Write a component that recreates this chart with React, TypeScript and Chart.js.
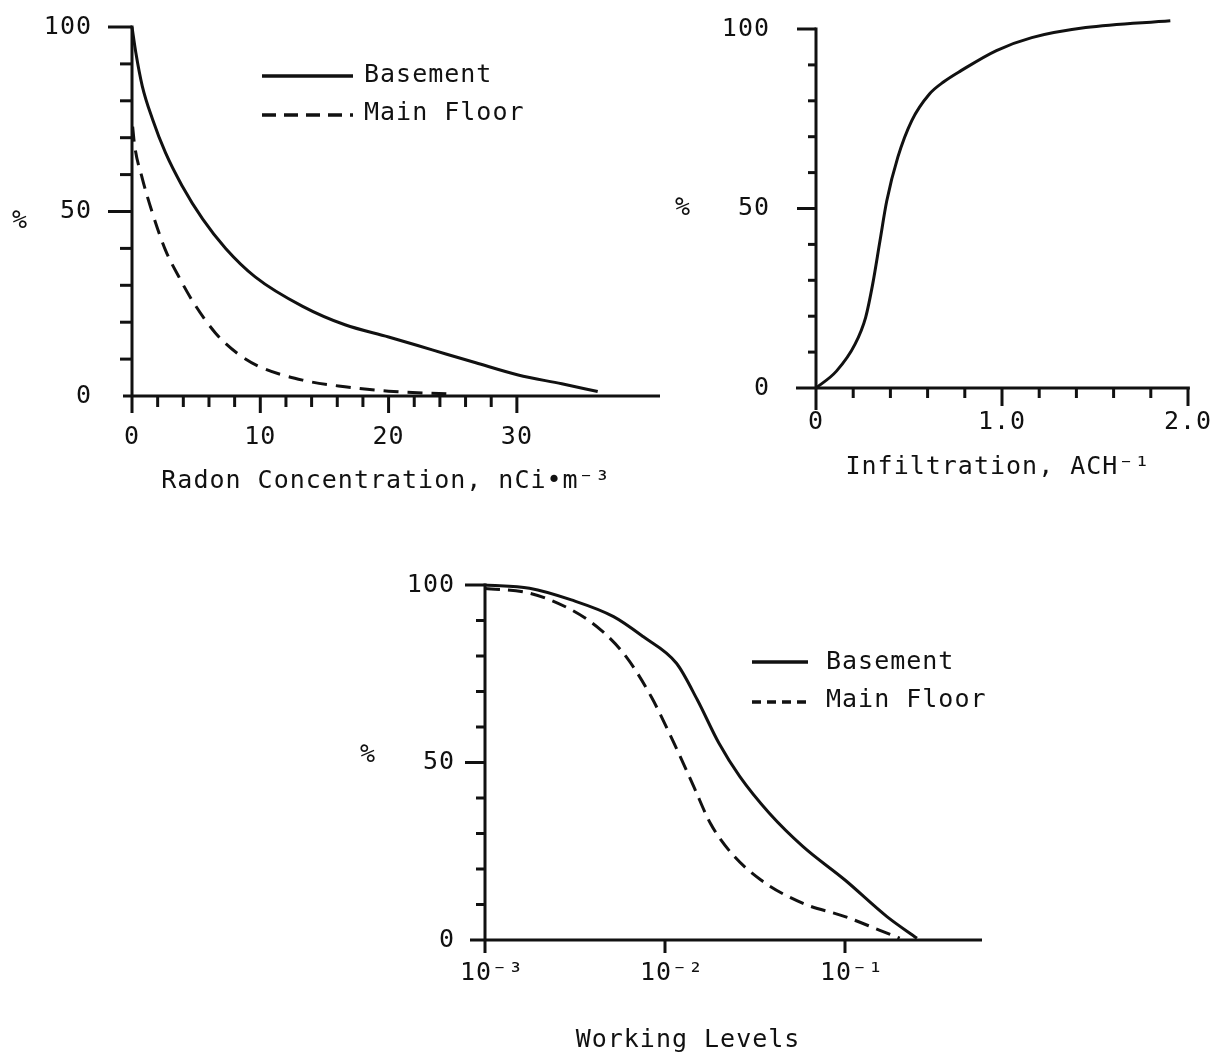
import React, { useEffect, useRef } from 'react';
import { Chart, registerables } from 'chart.js';

Chart.register(...registerables);

const FONT = '"DejaVu Sans Mono", "Liberation Mono", monospace';
const INK = '#111111';
const FS = 25;

// ---------- Panel 1: Radon concentration ----------
const radonBasementX = [0, 0.3, 0.8, 1.6, 2.6, 3.9, 5.5, 7.3, 9.6, 13.3, 16.6, 20, 23.4, 26.8, 30.1, 33.5, 36.3];
const radonBasementY = [100, 93, 84, 75, 66, 57, 48, 40, 32.3, 24.3, 19.3, 16, 12.5, 9, 5.7, 3.3, 1.2];
const radonMainX = [0.05, 0.2, 0.8, 1.6, 2.6, 3.7, 4.8, 6.5, 8.2, 9.9, 13.3, 16.6, 20, 24.5];
const radonMainY = [73, 68, 59, 49.5, 39.6, 32, 25.3, 17.1, 11.6, 8, 4.3, 2.5, 1.3, 0.6];
const radonXTicks = [0, 10, 20, 30];
const radonXTickLabels = ['0', '10', '20', '30'];
const radonXMinor = [2, 4, 6, 8, 12, 14, 16, 18, 22, 24, 26, 28];

// ---------- Panel 2: Infiltration ----------
const infilX = [0, 0.11, 0.21, 0.267, 0.305, 0.344, 0.38, 0.44, 0.515, 0.61, 0.687, 0.78, 0.97, 1.16, 1.45, 1.905];
const infilY = [0, 4.7, 12.2, 19.7, 29, 41, 52, 64.3, 74.5, 81.9, 85.3, 88.4, 94, 97.6, 100.4, 102.3];
const infilXTicks = [0, 1, 2];
const infilXTickLabels = ['0', '1.0', '2.0'];
const infilXMinor = [0.2, 0.4, 0.6, 0.8, 1.2, 1.4, 1.6, 1.8];

// ---------- Panel 3: Working levels ----------
const wlBasementX = [0.001, 0.001766, 0.00302, 0.00518, 0.00759, 0.01161, 0.01514, 0.01995, 0.02606, 0.038, 0.0585, 0.1, 0.171, 0.251];
const wlBasementY = [100, 99.1, 95.8, 91.1, 85.4, 77.9, 67.6, 55.4, 46, 35.7, 26.3, 16.9, 6.6, 0.5];
const wlMainX = [0.001, 0.001766, 0.00302, 0.00441, 0.00608, 0.00839, 0.01102, 0.01445, 0.01786, 0.02344, 0.03412, 0.0585, 0.1, 0.155, 0.2014];
const wlMainY = [99, 97.7, 93, 87.3, 79.8, 68.5, 56.3, 43.2, 32.9, 24.4, 16.9, 10.3, 6.6, 2.8, 0.5];
const wlXTicks = [0.001, 0.01, 0.1];
const wlXTickLabels = ['10⁻³', '10⁻²', '10⁻¹'];

// ---------- shared ----------
const pctTicks = [0, 50, 100];
const pctTickLabels = ['0', '50', '100'];
const pctMinor = [10, 20, 30, 40, 60, 70, 80, 90];
const legendLabels = ['Basement', 'Main Floor'];

type Series = { x: number[]; y: number[]; dash: number[] };
type Cfg = {
  left: number; top: number; width: number; height: number;
  area: { l: number; t: number; r: number; b: number };
  xType: 'linear' | 'logarithmic';
  xMin: number; xMax: number; xAxisEnd: number;
  xTicks: number[]; xTickLabels: string[]; xMinor: number[];
  xMajorLen: number; xMinorLen: number; xAxisLeft: number; yAxisBelow: number;
  yMajorLen: number; yMinorLen: number;
  yLabelPad: number; xLabelPad: number; xLabelOffset: number;
  series: Series[];
  pct: { x: number; y: number };
  title: { text: string; x: number; y: number };
  legend?: { x1: number; x2: number; tx: number; rows: { y: number; ty: number; dash: number[] }[] };
};

const panels: Cfg[] = [
  {
    left: 0, top: 0, width: 680, height: 510,
    area: { l: 132, t: 27, r: 658, b: 396 },
    xType: 'linear', xMin: 0, xMax: 41, xAxisEnd: 41.2,
    xTicks: radonXTicks, xTickLabels: radonXTickLabels, xMinor: radonXMinor,
    xMajorLen: 17, xMinorLen: 11, xAxisLeft: 9, yAxisBelow: 17,
    yMajorLen: 24, yMinorLen: 12,
    yLabelPad: 40, xLabelPad: 26, xLabelOffset: 0,
    series: [
      { x: radonBasementX, y: radonBasementY, dash: [] },
      { x: radonMainX, y: radonMainY, dash: [15, 9] },
    ],
    pct: { x: 20, y: 221 },
    title: { text: 'Radon Concentration, nCi•m⁻³', x: 386, y: 481 },
    legend: { x1: 262, x2: 353, tx: 364, rows: [{ y: 76, ty: 75, dash: [] }, { y: 115, ty: 113, dash: [14, 8] }] },
  },
  {
    left: 660, top: 0, width: 556, height: 510,
    area: { l: 816, t: 29, r: 1188, b: 388 },
    xType: 'linear', xMin: 0, xMax: 2, xAxisEnd: 2.01,
    xTicks: infilXTicks, xTickLabels: infilXTickLabels, xMinor: infilXMinor,
    xMajorLen: 18, xMinorLen: 10, xAxisLeft: 20, yAxisBelow: 22,
    yMajorLen: 19, yMinorLen: 8,
    yLabelPad: 46, xLabelPad: 19, xLabelOffset: 0,
    series: [{ x: infilX, y: infilY, dash: [] }],
    pct: { x: 683, y: 208 },
    title: { text: 'Infiltration, ACH⁻¹', x: 998, y: 467 },
  },
  {
    left: 340, top: 540, width: 660, height: 514,
    area: { l: 485, t: 585, r: 982, b: 940 },
    xType: 'logarithmic', xMin: 0.001, xMax: 0.577, xAxisEnd: 0.577,
    xTicks: wlXTicks, xTickLabels: wlXTickLabels, xMinor: [],
    xMajorLen: 13, xMinorLen: 0, xAxisLeft: 15, yAxisBelow: 13,
    yMajorLen: 20, yMinorLen: 9,
    yLabelPad: 30, xLabelPad: 18, xLabelOffset: 7,
    series: [
      { x: wlBasementX, y: wlBasementY, dash: [] },
      { x: wlMainX, y: wlMainY, dash: [15, 8] },
    ],
    pct: { x: 368, y: 755 },
    title: { text: 'Working Levels', x: 688, y: 1040 },
    legend: { x1: 752, x2: 808, tx: 826, rows: [{ y: 662, ty: 662, dash: [] }, { y: 702, ty: 700, dash: [9, 6] }] },
  },
];

function makePlugin(cfg: Cfg) {
  return {
    id: 'sketch',
    beforeLayout(chart: any) {
      chart.ctx.letterSpacing = '1px';
    },
    beforeDraw(chart: any) {
      const ctx = chart.ctx;
      ctx.letterSpacing = '1px';
      ctx.save();
      ctx.fillStyle = '#ffffff';
      ctx.fillRect(0, 0, chart.width, chart.height);
      ctx.restore();
    },
    afterDraw(chart: any) {
      const ctx = chart.ctx as CanvasRenderingContext2D;
      const xs = chart.scales.x;
      const ys = chart.scales.y;
      const X = (v: number) => xs.getPixelForValue(v);
      const Y = (v: number) => ys.getPixelForValue(v);
      const line = (a: number, b: number, c: number, d: number) => {
        ctx.beginPath();
        ctx.moveTo(a, b);
        ctx.lineTo(c, d);
        ctx.stroke();
      };
      ctx.save();
      ctx.strokeStyle = INK;
      ctx.fillStyle = INK;
      ctx.lineWidth = 3;
      ctx.lineCap = 'butt';
      const x0 = X(cfg.xMin);
      const y0 = Y(0);
      // axes
      line(x0, Y(100) - 1.5, x0, y0 + cfg.yAxisBelow);
      line(x0 - cfg.xAxisLeft, y0, X(cfg.xAxisEnd), y0);
      // y ticks
      pctTicks.forEach((v) => { if (v !== 0) line(x0 - cfg.yMajorLen, Y(v), x0, Y(v)); });
      pctMinor.forEach((v) => line(x0 - cfg.yMinorLen, Y(v), x0, Y(v)));
      // x ticks
      cfg.xTicks.forEach((v) => { if (v !== cfg.xMin) line(X(v), y0, X(v), y0 + cfg.xMajorLen); });
      cfg.xMinor.forEach((v) => line(X(v), y0, X(v), y0 + cfg.xMinorLen));
      // texts
      ctx.font = `${FS}px ${FONT}`;
      (ctx as any).letterSpacing = '1px';
      ctx.textBaseline = 'middle';
      ctx.textAlign = 'center';
      ctx.fillText('%', cfg.pct.x - cfg.left, cfg.pct.y - cfg.top);
      ctx.fillText(cfg.title.text, cfg.title.x - cfg.left, cfg.title.y - cfg.top);
      if (cfg.legend) {
        const lg = cfg.legend;
        lg.rows.forEach((r, i) => {
          ctx.lineWidth = 3.5;
          ctx.setLineDash(r.dash);
          line(lg.x1 - cfg.left, r.y - cfg.top, lg.x2 - cfg.left, r.y - cfg.top);
          ctx.setLineDash([]);
          ctx.textAlign = 'left';
          ctx.fillText(legendLabels[i], lg.tx - cfg.left, r.ty - cfg.top);
        });
      }
      ctx.restore();
    },
  };
}

function Panel({ cfg }: { cfg: Cfg }) {
  const ref = useRef<HTMLCanvasElement | null>(null);
  useEffect(() => {
    if (!ref.current) return;
    const tickFont = { family: FONT, size: FS };
    const chart = new Chart(ref.current, {
      type: 'line',
      data: {
        datasets: cfg.series.map((s, i) => ({
          label: legendLabels[i] || 'series',
          data: s.x.map((x, j) => ({ x, y: s.y[j] })),
          borderColor: INK,
          borderWidth: 3,
          borderDash: s.dash,
          pointRadius: 0,
          fill: false,
          cubicInterpolationMode: 'monotone',
          clip: false,
        })) as any,
      },
      options: {
        responsive: false,
        animation: false,
        events: [],
        layout: {
          autoPadding: false,
          padding: {
            left: 0,
            top: cfg.area.t - cfg.top,
            right: cfg.left + cfg.width - cfg.area.r,
            bottom: 0,
          },
        },
        plugins: { legend: { display: false }, tooltip: { enabled: false } },
        scales: {
          x: {
            type: cfg.xType,
            position: 'bottom',
            min: cfg.xMin,
            max: cfg.xMax,
            grid: { display: false, drawTicks: false },
            border: { display: false },
            afterBuildTicks: (s: any) => { s.ticks = cfg.xTicks.map((v) => ({ value: v })); },
            afterFit: (s: any) => {
              s.height = cfg.top + cfg.height - cfg.area.b;
              s.paddingLeft = 0; s.paddingRight = 0; s.paddingTop = 0; s.paddingBottom = 0;
            },
            ticks: {
              autoSkip: false,
              maxRotation: 0,
              minRotation: 0,
              padding: cfg.xLabelPad,
              labelOffset: cfg.xLabelOffset,
              font: tickFont,
              color: INK,
              callback: (_v: any, i: number) => cfg.xTickLabels[i],
            },
          } as any,
          y: {
            type: 'linear',
            position: 'left',
            min: 0,
            max: 100,
            grid: { display: false, drawTicks: false },
            border: { display: false },
            afterBuildTicks: (s: any) => { s.ticks = pctTicks.map((v) => ({ value: v })); },
            afterFit: (s: any) => {
              s.width = cfg.area.l - cfg.left;
              s.paddingLeft = 0; s.paddingRight = 0; s.paddingTop = 0; s.paddingBottom = 0;
            },
            ticks: {
              autoSkip: false,
              padding: cfg.yLabelPad,
              font: tickFont,
              color: INK,
              callback: (_v: any, i: number) => pctTickLabels[i],
            },
          } as any,
        },
      },
      plugins: [makePlugin(cfg)],
    });
    return () => chart.destroy();
  }, [cfg]);
  return (
    <canvas
      ref={ref}
      width={cfg.width}
      height={cfg.height}
      style={{ position: 'absolute', left: cfg.left, top: cfg.top, width: cfg.width, height: cfg.height }}
    />
  );
}

export default function App() {
  return (
    <div style={{ position: 'absolute', left: 0, top: 0, width: 1216, height: 1054, background: '#ffffff', overflow: 'hidden' }}>
      {panels.map((p, i) => (
        <Panel key={i} cfg={p} />
      ))}
    </div>
  );
}
